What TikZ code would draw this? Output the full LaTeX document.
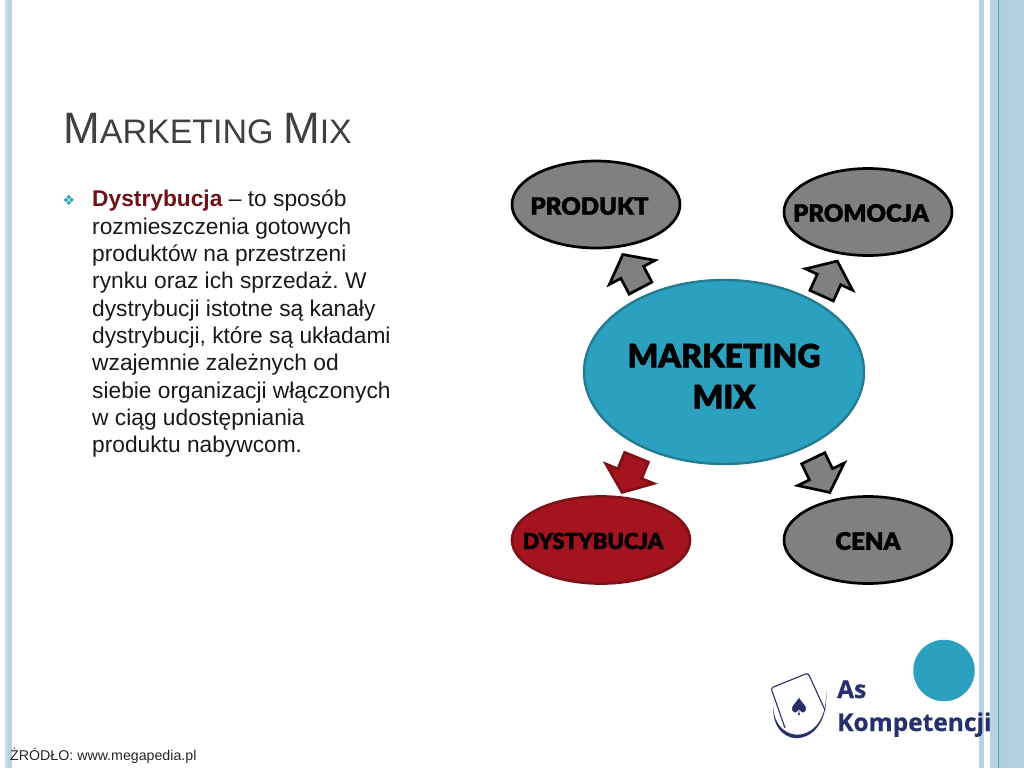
\documentclass[tikz,border=0pt]{standalone}
\usepackage{fontspec}
\usepackage{tikz}
\usetikzlibrary{shapes.geometric,shapes.arrows}
\setmainfont{Liberation Sans}
\newfontfamily\heavyfont[FakeBold=1.5]{Lato Black}
\newfontfamily\logofont[FakeBold=0.6]{Open Sans Bold}
\newfontfamily\symfont{DejaVu Sans}
\definecolor{stripA}{HTML}{C5DCE8}
\definecolor{stripB}{HTML}{B4D4E4}
\definecolor{stripC}{HTML}{A9CFDD}
\definecolor{stripD}{HTML}{B2D0DE}
\definecolor{lineblue}{HTML}{5B9BBE}
\definecolor{tealfill}{HTML}{2CA1BF}
\definecolor{tealdraw}{HTML}{247C92}
\definecolor{redfill}{HTML}{A3141E}
\definecolor{reddraw}{HTML}{7F1018}
\definecolor{grayfill}{HTML}{808080}
\definecolor{navy}{HTML}{28306B}
\definecolor{wine}{HTML}{6F1018}
\tikzset{
	oval/.style={draw=black, line width=2.7pt, fill=grayfill, ellipse, inner sep=0pt, minimum width=168pt, minimum height=87pt},
	redoval/.style={oval, draw=reddraw, fill=redfill, minimum width=178pt},
	ovaltext/.style={inner sep=0pt, align=center, font=\heavyfont\fontsize{24}{24}\selectfont},
	blockarrow/.style={draw=black, line width=2.7pt, fill=grayfill, single arrow, inner xsep=0pt, inner ysep=11.5pt, minimum height=38pt, single arrow head extend=13pt, single arrow tip angle=104, anchor=tip},
}
\begin{document}
\begin{tikzpicture}[x=1pt,y=-1pt]
        \useasboundingbox (0,0) rectangle (1024,768);

        \fill[stripA] (5,0) rectangle (7.5,768);
        \fill[stripB] (7.5,0) rectangle (12,768);
        \fill[stripB] (979,0) rectangle (983.5,768);
        \fill[stripB] (990,0) rectangle (998,768);
        \fill[stripC] (998,0) rectangle (1007,768);
        \fill[stripD] (1007,0) rectangle (1024,768);
        \fill[lineblue] (997.7,0) rectangle (998.8,768);

        \node[anchor=base west, text=black!75, inner sep=0pt] (title) at (63,143.5) {\fontsize{44}{44}\selectfont M\fontsize{34}{34}\selectfont ARKETING \fontsize{44}{44}\selectfont M\fontsize{34}{34}\selectfont IX};

        \node[text=tealfill, inner sep=0pt] (bullet) at (69,200) {\symfont\fontsize{14}{14}\selectfont ❖};
        \node[anchor=north west, inner sep=0pt, align=left, text=black!90, font=\fontsize{22.75}{27.33}\selectfont\frenchspacing] (body) at (92,190) {\textcolor{wine}{\textbf{Dystrybucja}} – to sposób\\
            rozmieszczenia gotowych\\
            produktów na przestrzeni\\
            rynku oraz ich sprzedaż. W\\
            dystrybucji istotne są kanały\\
            dystrybucji, które są układami\\
            wzajemnie zależnych od\\
            siebie organizacji włączonych\\
            w ciąg udostępniania\\
            produktu nabywcom.};

        \node[oval] (P) at (596,204.5) {};
        \node[oval] (R) at (868,212) {};
        \node[redoval] (D) at (601,540) {};
        \node[oval] (C) at (868,540) {};
        \node[oval, line width=2.4pt, draw=tealdraw, fill=tealfill, minimum width=280pt, minimum height=184pt] (M) at (724,372) {};

        \node[ovaltext] (Ptext) at ([xshift=-6.5pt,yshift=-1.5pt]P) {PRODUKT};
        \node[ovaltext] (Rtext) at ([xshift=-7pt,yshift=-1pt]R) {PROMOCJA};
        \node[ovaltext, font=\heavyfont\fontsize{22}{22}\selectfont] (Dtext) at ([xshift=-8pt,yshift=-1pt]D) {DYSTYBUCJA};
        \node[ovaltext] (Ctext) at ([yshift=-1pt]C) {CENA};
        \node[ovaltext, font=\heavyfont\fontsize{32}{41}\selectfont] (Mtext) at ([yshift=-4pt]M) {MARKETING\\MIX};

        \node[blockarrow, rotate=117.8] (AP) at (622,253) {};
        \node[blockarrow, rotate=65.7] (AR) at (838,259.5) {};
        \node[blockarrow, draw=reddraw, fill=redfill, rotate=247.8] (AD) at (621.5,494) {};
        \node[blockarrow, rotate=-64.2] (AC) at (830.5,494) {};

        \node[circle, fill=tealfill, inner sep=0pt, minimum size=61.5pt] (dot) at (944,670.5) {};

        \node[anchor=base west, inner sep=0pt, font=\fontsize{14.2}{14.2}\selectfont, text=black!85] (source) at (10,760) {ŻRÓDŁO: www.megapedia.pl};

        \draw[navy, line width=1.1pt, rounded corners=2.5pt] (785,728) -- (771,688) -- (808,673) -- (825,710);
        \fill[navy] (773,706) .. controls (772,754) and (831,748) .. (826,690) .. controls (829,745) and (775,748) .. (773,706) -- cycle;
        \node[text=navy, inner sep=0pt] (spade) at (799,707) {\symfont\fontsize{24}{24}\selectfont ♠};
        \node[anchor=base west, inner sep=0pt, text=navy, font=\logofont\fontsize{24.5}{24.5}\selectfont] (as) at (837,698) {As};
        \node[anchor=base west, inner sep=0pt, text=navy, font=\logofont\fontsize{24.5}{24.5}\selectfont] (komp) at (837,731) {Kompetencji};
\end{tikzpicture}
\end{document}
